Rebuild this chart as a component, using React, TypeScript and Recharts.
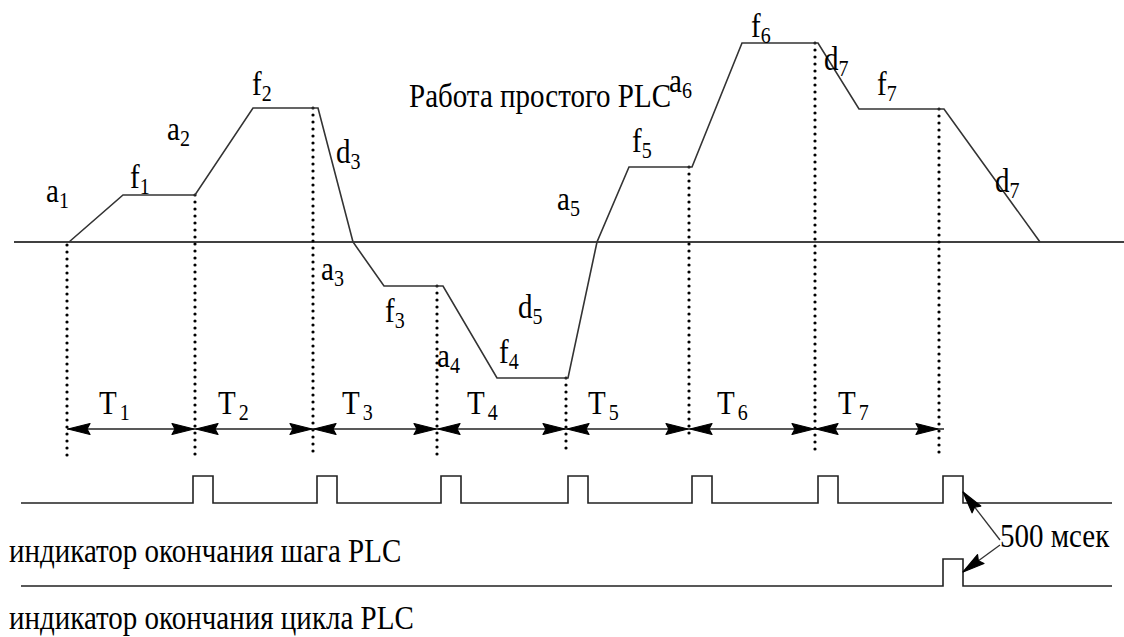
import type { FC } from "react";
import {
	ComposedChart,
	Line,
	ReferenceDot,
	ReferenceLine,
	Scatter,
	XAxis,
	YAxis,
} from "recharts";

const FONT = "Liberation Serif";
const INK = "#000";
const TEXT_SIZE = 29;
const SUB_SIZE = 20;

// профиль частоты: время (ед.) и частота (0 = нулевая частота)
const profileTime = [
	69, 123, 195, 253, 318, 353, 384, 443, 497, 568, 597, 629, 692, 742, 818,
	859, 944, 1040,
];
const profileFreq = [
	0, 47, 47, 134, 134, 0, -44, -44, -136, -136, 0, 75, 75, 199, 199, 133, 133,
	0,
];

// границы шагов T1..T7
const stepEdges = [67, 195, 313, 437, 566, 689, 815, 939];
const edgeTops = [-3, 47, 134, -44, -136, 75, 199, 133];
const edgeBottoms = [-220, -213, -213, -213, -208, -195, -208, -213];

const periodNames = ["1", "2", "3", "4", "5", "6", "7"];
const periodLabelTime = [99, 218, 342, 467, 588, 717, 838];

// импульсы индикаторов
const stepPulseStarts = [193, 317, 441, 568, 692, 818, 943];
const cyclePulseStarts = [943];

// подписи участков: [текст, индекс, время, уровень]
const segmentLabels: [string, string, number, number][] = [
	["a", "1", 46, 40],
	["f", "1", 130, 54],
	["a", "2", 167, 102],
	["f", "2", 252, 147],
	["d", "3", 336, 79],
	["a", "3", 321, -38],
	["f", "3", 385, -80],
	["a", "4", 437, -125],
	["f", "4", 499, -121],
	["d", "5", 518, -76],
	["a", "5", 557, 32],
	["f", "5", 632, 90],
	["a", "6", 669, 150],
	["f", "6", 751, 205],
	["d", "7", 824, 172],
	["f", "7", 877, 147],
	["d", "7", 995, 50],
];

const T_ROW = -187;
const STEP_ROW = -261;
const CYCLE_ROW = -344;
const PULSE_HEIGHT = 27;
const PULSE_WIDTH = 20;
const LINE_START = 21;
const LINE_END = 1112;

const profileData = profileTime.map((t, i) => ({ t, f: profileFreq[i] }));

const pulseTrain = (row: number, starts: number[]) => [
	{ t: LINE_START, f: row },
	...starts.flatMap((s) => [
		{ t: s, f: row },
		{ t: s, f: row + PULSE_HEIGHT },
		{ t: s + PULSE_WIDTH, f: row + PULSE_HEIGHT },
		{ t: s + PULSE_WIDTH, f: row },
	]),
	{ t: LINE_END, f: row },
];

type TextPoint = {
	t: number;
	f: number;
	text: string;
	sub?: string;
	subGap?: number;
};

const textPoints: TextPoint[] = [
	...segmentLabels.map(([text, sub, t, f]) => ({ t, f, text, sub })),
	...periodNames.map((sub, i) => ({
		t: periodLabelTime[i],
		f: -172,
		text: "T",
		sub,
		subGap: 3,
	})),
	{ t: 409, f: 135, text: "Работа простого PLC" },
	{ t: 1000, f: -305, text: "500 мсек" },
	{ t: 9, f: -320, text: "индикатор окончания шага PLC" },
	{ t: 9, f: -387, text: "индикатор окончания цикла PLC" },
];

type ArrowPoint = { t: number; f: number; fromT: number; fromF: number };

// наконечники стрелок T1..T7 и 500 мсек
const arrowPoints: ArrowPoint[] = [
	...periodNames.flatMap((_, i) => [
		{ t: stepEdges[i] + 1, f: T_ROW, fromT: stepEdges[i + 1], fromF: T_ROW },
		{ t: stepEdges[i + 1] - 1, f: T_ROW, fromT: stepEdges[i], fromF: T_ROW },
	]),
	{ t: 963, f: -250, fromT: 1000, fromF: -298 },
	{ t: 963, f: -330, fromT: 1000, fromF: -303 },
];

// подпись рисуется в точке, вычисленной шкалами (viewBox точки ReferenceDot)
const makeLabel = (p: TextPoint) => (props: any) => {
	const vb = props.viewBox ?? {};
	const x = (vb.x ?? 0) + (vb.width ?? 0) / 2;
	const y = (vb.y ?? 0) + (vb.height ?? 0) / 2;
	return (
		<text
			x={0}
			y={0}
			fill={INK}
			fontFamily={FONT}
			fontSize={TEXT_SIZE}
			style={{ fontFamily: FONT, fontSize: TEXT_SIZE }}
			transform={`translate(${x},${y}) scale(1,1.15)`}
		>
			{p.text}
			{p.sub ? (
				<tspan
					dx={p.subGap ?? 0}
					dy={5}
					fontFamily={FONT}
					fontSize={SUB_SIZE}
					style={{ fontFamily: FONT, fontSize: SUB_SIZE }}
				>
					{p.sub}
				</tspan>
			) : null}
		</text>
	);
};

const ArrowShape: FC<{ cx?: number; cy?: number; payload?: ArrowPoint }> = ({
	cx = 0,
	cy = 0,
	payload,
}) => {
	if (!payload) return null;
	const angle =
		(Math.atan2(-(payload.f - payload.fromF), payload.t - payload.fromT) *
			180) /
		Math.PI;
	return (
		<polygon
			points="0,0 -22,-5.5 -19,0 -22,5.5"
			fill={INK}
			stroke={INK}
			strokeWidth={1.2}
			strokeLinejoin="round"
			transform={`translate(${cx},${cy}) rotate(${angle})`}
		/>
	);
};

export default function App() {
	return (
		<div
			style={{
				position: "absolute",
				left: 0,
				top: 0,
				width: 1124,
				height: 637,
				background: "#fff",
				fontFamily: FONT,
			}}
		>
			<ComposedChart
				width={1124}
				height={637}
				margin={{ top: 0, right: 0, bottom: 0, left: 0 }}
				style={{ fontFamily: FONT }}
			>
				<XAxis
					dataKey="t"
					type="number"
					domain={[0, 1124]}
					allowDataOverflow
					hide
				/>
				<YAxis type="number" domain={[-395, 242]} allowDataOverflow hide />
				{/* нулевая линия частоты */}
				<ReferenceLine
					segment={[
						{ x: 14, y: 0 },
						{ x: 1124, y: 0 },
					]}
					stroke={INK}
					strokeWidth={1.5}
				/>
				{stepEdges.map((x, i) => (
					<ReferenceLine
						key={`edge-${x}`}
						segment={[
							{ x, y: edgeTops[i] },
							{ x, y: edgeBottoms[i] },
						]}
						stroke={INK}
						strokeWidth={3.2}
						strokeDasharray="0 7"
						strokeLinecap="round"
					/>
				))}
				<ReferenceLine
					segment={[
						{ x: stepEdges[0], y: T_ROW },
						{ x: stepEdges[stepEdges.length - 1] + 5, y: T_ROW },
					]}
					stroke="#222"
					strokeWidth={1.5}
				/>
				<ReferenceLine
					segment={[
						{ x: 1000, y: -298 },
						{ x: 963, y: -250 },
					]}
					stroke="#333"
					strokeWidth={1.3}
				/>
				<ReferenceLine
					segment={[
						{ x: 1000, y: -303 },
						{ x: 963, y: -330 },
					]}
					stroke="#333"
					strokeWidth={1.3}
				/>
				<Line
					data={profileData}
					dataKey="f"
					type="linear"
					stroke="#333"
					strokeWidth={1.6}
					dot={false}
					activeDot={false}
					isAnimationActive={false}
				/>
				<Line
					data={pulseTrain(STEP_ROW, stepPulseStarts)}
					dataKey="f"
					type="linear"
					stroke="#222"
					strokeWidth={1.6}
					dot={false}
					activeDot={false}
					isAnimationActive={false}
				/>
				<Line
					data={pulseTrain(CYCLE_ROW, cyclePulseStarts)}
					dataKey="f"
					type="linear"
					stroke="#222"
					strokeWidth={1.6}
					dot={false}
					activeDot={false}
					isAnimationActive={false}
				/>
				<Scatter
					data={arrowPoints}
					dataKey="f"
					shape={(props: any) => <ArrowShape {...props} />}
					isAnimationActive={false}
				/>
				{textPoints.map((p, i) => (
					<ReferenceDot
						key={`lbl-${i}`}
						x={p.t}
						y={p.f}
						r={0}
						fill="none"
						stroke="none"
						label={makeLabel(p)}
					/>
				))}
			</ComposedChart>
		</div>
	);
}
